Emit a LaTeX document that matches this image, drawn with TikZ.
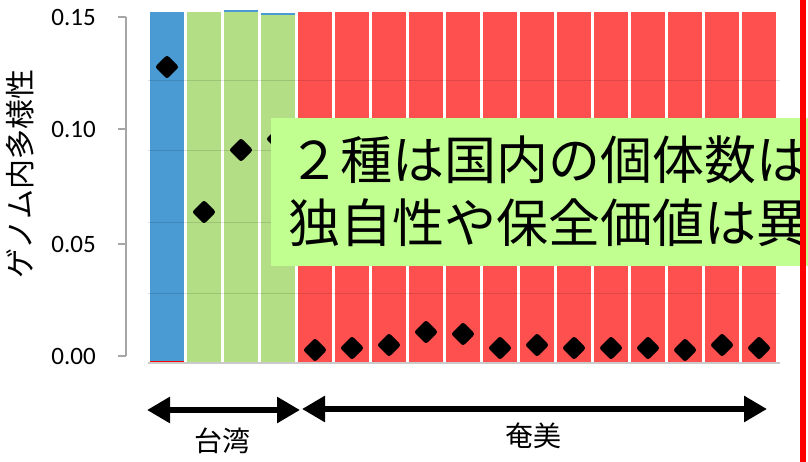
\documentclass[tikz,border=0pt]{standalone}
\usepackage{fontspec}
\setmainfont{Carlito}
\newfontfamily\jp{Noto Sans CJK JP}
\usetikzlibrary{arrows.meta}
\definecolor{barblue}{HTML}{4A9BD3}
\definecolor{bargreen}{HTML}{B3DE86}
\definecolor{barred}{HTML}{FF5050}
\definecolor{boxgreen}{HTML}{C0FF90}
\definecolor{axisgray}{HTML}{A6A6A6}
\tikzset{
  tick/.style={font=\fontsize{25}{25}\selectfont, anchor=east, inner sep=0pt},
  grid line/.style={draw=black, opacity=0.12, line width=1},
  span arrow/.style={line width=6, {Triangle[length=23,width=25]}-{Triangle[length=23,width=25]}},
  region/.style={font=\jp\fontsize{28}{28}\selectfont, inner sep=0pt},
}
\newcommand{\diam}[2]{\fill[black, rounded corners=2.5] (#1,#2-12) -- (#1+12,#2) -- (#1,#2+12) -- (#1-12,#2) -- cycle;}
\begin{document}
\begin{tikzpicture}[x=1pt,y=-1pt]
\useasboundingbox (0,0) rectangle (808,462);
\fill[white] (0,0) rectangle (808,462);
% bars
\fill[barblue] (150,12) rectangle (184,363);
\fill[red] (150,360.5) rectangle (184,363);
\fill[bargreen] (187,12) rectangle (221,363);
\fill[barblue] (224,10) rectangle (258,12);
\fill[bargreen] (224,12) rectangle (258,363);
\fill[barblue] (261,12.7) rectangle (295,15);
\fill[bargreen] (261,15) rectangle (295,363);
\foreach \i in {4,...,16} {
  \fill[barred] (150+37*\i,12) rectangle (184+37*\i,363);
}
% gridlines
\foreach \y in {81,151,223,293} {
  \draw[grid line] (148,\y) -- (780,\y);
}
\draw[axisgray!60, line width=1.2] (148,363) -- (780,363);
% axis
\draw[axisgray, line width=1.2] (126,17) -- (126,356);
\foreach \y/\t in {17/0.15,129/0.10,244/0.05,356/0.00} {
  \draw[axisgray, line width=1.2] (118,\y) -- (126,\y);
  \node[tick] (t\t) at (96,\y) {\t};
}
\node[region, rotate=90, font=\jp\fontsize{30}{30}\selectfont] (ylab) at (20,174) {ゲノム内多様性};
% diamonds
\foreach \i/\y in {0/67,1/212,2/150,3/139,4/350,5/348,6/345,7/332,8/334,9/348,10/345,11/348,12/348,13/348,14/350,15/345,16/348} {
  \diam{167+37*\i}{\y}
}
% text box
\fill[boxgreen] (271,118) rectangle (820,266);
\node[anchor=west, inner sep=0pt, align=left, font=\jp\fontsize{52}{63}\selectfont] (msg) at (288,191) {２種は国内の個体数は\\独自性や保全価値は異};
% red vertical line
\fill[red] (800,0) rectangle (806,462);
% arrows
\coordinate (tw1) at (147,410);
\coordinate (tw2) at (300,410);
\coordinate (am1) at (302,409);
\coordinate (am2) at (767,409);
\draw[span arrow] (tw1) -- (tw2);
\draw[span arrow] (am1) -- (am2);
\node[region] (taiwan) at (222,441) {台湾};
\node[region] (amami) at (533,436) {奄美};
\end{tikzpicture}
\end{document}
